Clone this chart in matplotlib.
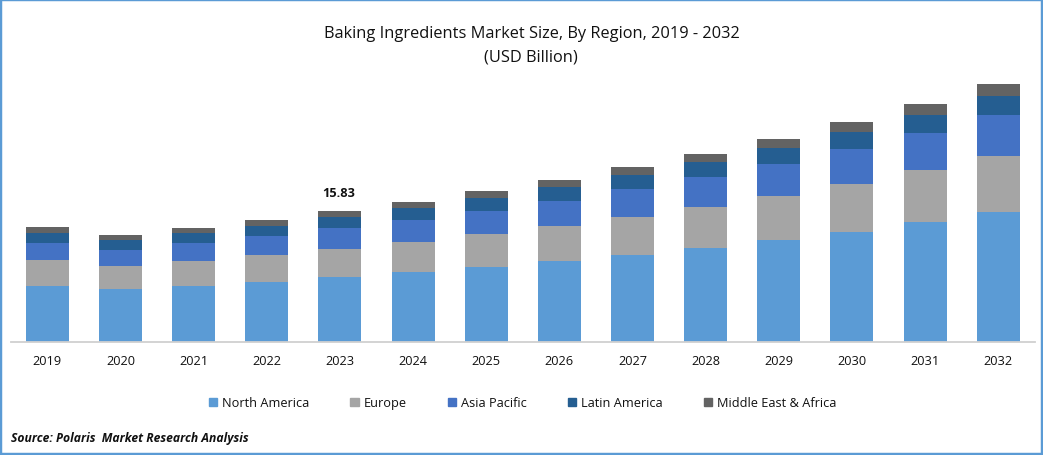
import matplotlib
matplotlib.use("Agg")
import matplotlib.pyplot as plt
from matplotlib.patches import Rectangle, Patch

plt.rcParams['font.family'] = ['Open Sans', 'DejaVu Sans']

years = ['2019','2020','2021','2022','2023','2024','2025','2026','2027','2028','2029','2030','2031','2032']
north_america = [6.77,6.40,6.77,7.25,7.85,8.46,9.06,9.79,10.51,11.36,12.32,13.29,14.50,15.70]
europe = [3.14,2.78,3.02,3.26,3.38,3.62,3.99,4.23,4.59,4.95,5.32,5.80,6.28,6.76]
asia_pacific = [2.05,1.93,2.17,2.30,2.54,2.66,2.78,3.02,3.38,3.62,3.87,4.23,4.47,4.95]
latin_america = [1.21,1.21,1.21,1.21,1.33,1.45,1.57,1.69,1.69,1.81,1.93,2.05,2.17,2.30]
mea = [.72,.60,.60,.72,.72,.72,.85,.85,.97,.97,1.09,1.21,1.33,1.45]
series = [('North America', north_america, '#5B9BD5'), ('Europe', europe, '#A5A5A5'),
          ('Asia Pacific', asia_pacific, '#4472C4'), ('Latin America', latin_america, '#255E91'),
          ('Middle East & Africa', mea, '#636363')]
callout_year, callout_label = '2023', '15.83'

W, H = 1043, 456
fig = plt.figure(figsize=(W/100, H/100), dpi=100, facecolor='white')
ax = fig.add_axes([10.7/W, (H-343)/H, (1035-10.9)/W, 343/H])
x = list(range(len(years)))
bottom = [0.0]*len(years)
for name, vals, col in series:
    ax.bar(x, vals, 0.588, bottom=bottom, color=col, label=name, linewidth=0)
    bottom = [b+v for b, v in zip(bottom, vals)]
ax.set_xlim(-0.5, len(years)-0.5)
ax.set_ylim(0, 343/8.276)
ax.set_yticks([])
ax.set_xticks(x, years, fontsize=9.2, color='#111111')
ax.tick_params(axis='x', length=0, pad=9)
for s in ['top','left','right']:
    ax.spines[s].set_visible(False)
ax.spines['bottom'].set_color('#D0D0D0')
ax.spines['bottom'].set_linewidth(1.3)
ax.patch.set_alpha(0)

i = years.index(callout_year)
ax.annotate(callout_label, (x[i], bottom[i]), xytext=(-1, 9), textcoords='offset points',
            ha='center', va='bottom', fontsize=9.2, fontweight='bold', color='#111111')

fig.text(531.5/W, 1-33.5/H, 'Baking Ingredients Market Size, By Region, 2019 - 2032', ha='center', va='center', fontsize=11.82, color='#111111')
fig.text(531/W, 1-57/H, '(USD Billion)', ha='center', va='center', fontsize=11.82, color='#111111')

handles = [Patch(color=c, label=n) for n, _, c in series]
fig.legend(handles=handles, loc='center', bbox_to_anchor=(522.5/W, 1-404/H), ncol=5, frameon=False,
           fontsize=9.2, handlelength=0.65, handleheight=0.65, handletextpad=0.4, columnspacing=3.2,
           labelcolor='#111111')
fig.text(11/W, 1-438.5/H, 'Source: Polaris  Market Research Analysis', ha='left', va='center',
         fontsize=8.72, fontweight='bold', fontstyle='italic', color='#111111')
fig.add_artist(Rectangle((0, 0), 1, 1, transform=fig.transFigure, fill=False, edgecolor='#5B9BD5', linewidth=3.2))
fig.savefig('out.png', dpi=100)
